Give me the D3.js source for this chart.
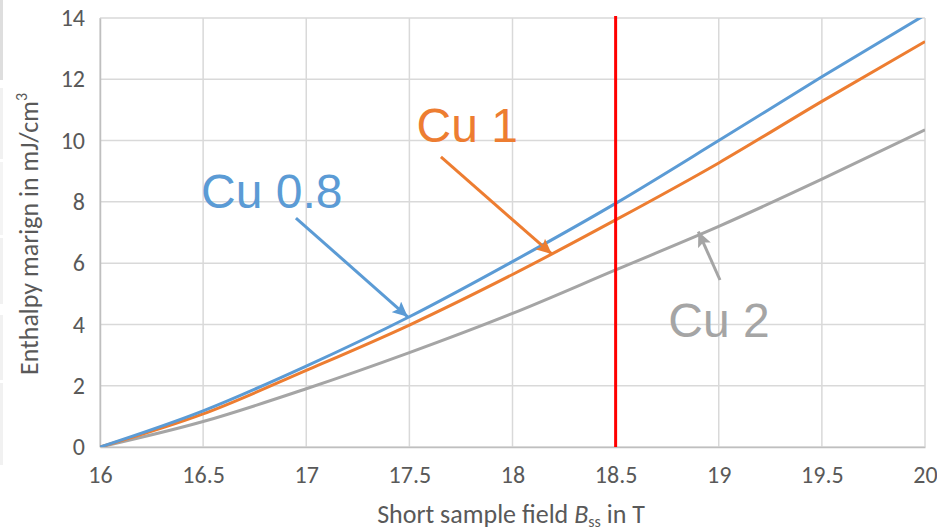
<!DOCTYPE html>
<html>
<head>
<meta charset="utf-8">
<script src="https://cdn.jsdelivr.net/npm/d3@7"></script>
<style>
body { margin: 0; background: #fff; }
</style>
</head>
<body>
<script>
var field = [16, 16.5, 17, 17.5, 18, 18.5, 19, 19.5, 20];
var cu08 = [0, 1.18, 2.64, 4.25, 6.05, 7.95, 10.0, 12.08, 14.1];
var cu1 = [0, 1.08, 2.5, 3.98, 5.63, 7.41, 9.27, 11.28, 13.23];
var cu2 = [0, 0.83, 1.9, 3.08, 4.36, 5.78, 7.2, 8.74, 10.35];
var series_names = ["Cu 0.8", "Cu 1", "Cu 2"];
var x_ticks = [16, 16.5, 17, 17.5, 18, 18.5, 19, 19.5, 20];
var y_ticks = [0, 2, 4, 6, 8, 10, 12, 14];
var limit_field = 18.5;

var series_colors = ["#5b9bd5", "#ed7d31", "#a5a5a5"];
var limit_color = "#ff0000";
var grid_color = "#d9d9d9";
var axis_color = "#bfbfbf";
var text_color = "#595959";
var tick_font = "Calibri, Carlito, Lato, sans-serif";
var note_font = "Arial, 'Liberation Sans', sans-serif";

// annotation label and arrow anchors, in data units
var label_at = [[16.49, 7.8], [17.535, 9.96], [18.755, 3.6]];
var arrow_from = [[16.95, 7.47], [17.653, 9.47], [19.006, 5.45]];
var arrow_to = [[17.492, 4.25], [18.19, 6.3], [18.901, 7.03]];

var svg_width = 937, svg_height = 531;
var plot_left = 100, plot_right = 925, plot_top = 18, plot_bottom = 447;

var svg = d3.select("body").append("svg")
  .attr("width", svg_width).attr("height", svg_height)
  .style("display", "block");

// faint strips at the left edge of the source picture
var strips = [[0, 80, "#dedede"], [88, 159, "#f1f1f1"], [162, 235, "#f4f4f4"],
              [238, 304, "#f1f1f1"], [315, 380, "#f1f1f1"], [383, 465, "#f1f1f1"]];
svg.selectAll("rect.strip").data(strips).enter().append("rect")
  .attr("class", "strip")
  .attr("x", 0).attr("width", 3)
  .attr("y", function(d) { return d[0]; })
  .attr("height", function(d) { return d[1] - d[0]; })
  .attr("fill", function(d) { return d[2]; });

var x = d3.scaleLinear().domain([16, 20]).range([plot_left, plot_right]);
var y = d3.scaleLinear().domain([0, 14]).range([plot_bottom, plot_top]);

var defs = svg.append("defs");
defs.append("clipPath").attr("id", "plotclip").append("rect")
  .attr("x", plot_left).attr("y", plot_top)
  .attr("width", plot_right - plot_left).attr("height", plot_bottom - plot_top);

series_colors.forEach(function(c, i) {
  defs.append("marker").attr("id", "head" + i)
    .attr("markerUnits", "userSpaceOnUse")
    .attr("markerWidth", 16).attr("markerHeight", 14)
    .attr("refX", 15).attr("refY", 7)
    .attr("orient", "auto")
    .append("path").attr("d", "M0,0 L15,7 L0,14 L3,7 Z").attr("fill", c);
});

// grid
svg.append("g").selectAll("line").data(x_ticks).enter().append("line")
  .attr("x1", function(d) { return x(d); }).attr("x2", function(d) { return x(d); })
  .attr("y1", plot_top).attr("y2", plot_bottom)
  .attr("stroke", grid_color).attr("stroke-width", 1.5);
svg.append("g").selectAll("line").data(y_ticks).enter().append("line")
  .attr("y1", function(d) { return y(d); }).attr("y2", function(d) { return y(d); })
  .attr("x1", plot_left).attr("x2", plot_right)
  .attr("stroke", grid_color).attr("stroke-width", 1.5);

// axes
var xaxis = svg.append("g").attr("transform", "translate(0," + plot_bottom + ")")
  .call(d3.axisBottom(x).tickValues(x_ticks).tickSize(0).tickPadding(19)
        .tickFormat(d3.format("")));
var yaxis = svg.append("g").attr("transform", "translate(" + plot_left + ",0)")
  .call(d3.axisLeft(y).tickValues(y_ticks).tickSize(0).tickPadding(15));
[xaxis, yaxis].forEach(function(a) {
  a.attr("font-size", null).attr("font-family", null);
  a.select(".domain").attr("stroke", axis_color).attr("stroke-width", 1.5);
  a.selectAll("text").attr("fill", text_color)
    .attr("font-family", tick_font).attr("font-size", 24);
});

// series
var line = d3.line()
  .x(function(d) { return x(d[0]); })
  .y(function(d) { return y(d[1]); })
  .curve(d3.curveMonotoneX);
var series = [cu08, cu1, cu2];
var lineg = svg.append("g").attr("clip-path", "url(#plotclip)");
lineg.selectAll("path").data(series.slice().reverse()).enter().append("path")
  .attr("d", function(d) { return line(d3.zip(field, d)); })
  .attr("fill", "none")
  .attr("stroke", function(d, i) { return series_colors[2 - i]; })
  .attr("stroke-width", 3)
  .attr("stroke-linejoin", "round");

// short sample limit
svg.append("line")
  .attr("x1", x(limit_field)).attr("x2", x(limit_field))
  .attr("y1", plot_top - 2).attr("y2", plot_bottom)
  .attr("stroke", limit_color).attr("stroke-width", 3);

// annotations
var noteg = svg.append("g");
series_names.forEach(function(name, i) {
  noteg.append("line")
    .attr("x1", x(arrow_from[i][0])).attr("y1", y(arrow_from[i][1]))
    .attr("x2", x(arrow_to[i][0])).attr("y2", y(arrow_to[i][1]))
    .attr("stroke", series_colors[i]).attr("stroke-width", 3)
    .attr("marker-end", "url(#head" + i + ")");
  noteg.append("text")
    .attr("x", x(label_at[i][0])).attr("y", y(label_at[i][1]))
    .attr("fill", series_colors[i])
    .style("font-family", note_font).style("font-size", "48px")
    .text(name);
});

// axis titles
var ytitle = svg.append("text")
  .attr("transform", "translate(38,234) rotate(-90)")
  .attr("text-anchor", "middle")
  .attr("fill", text_color)
  .style("font-family", tick_font).style("font-size", "26px");
ytitle.append("tspan").text("Enthalpy marign in mJ/cm");
ytitle.append("tspan").attr("dy", -11).style("font-size", "16px").text("3");

var xtitle = svg.append("text")
  .attr("x", 511).attr("y", 523)
  .attr("text-anchor", "middle")
  .attr("fill", text_color)
  .style("font-family", tick_font).style("font-size", "26px");
xtitle.append("tspan").text("Short sample field ");
xtitle.append("tspan").style("font-style", "italic").text("B");
xtitle.append("tspan").attr("dy", 4).style("font-size", "16px").text("ss");
xtitle.append("tspan").attr("dy", -4).text("  in T");
</script>
</body>
</html>
